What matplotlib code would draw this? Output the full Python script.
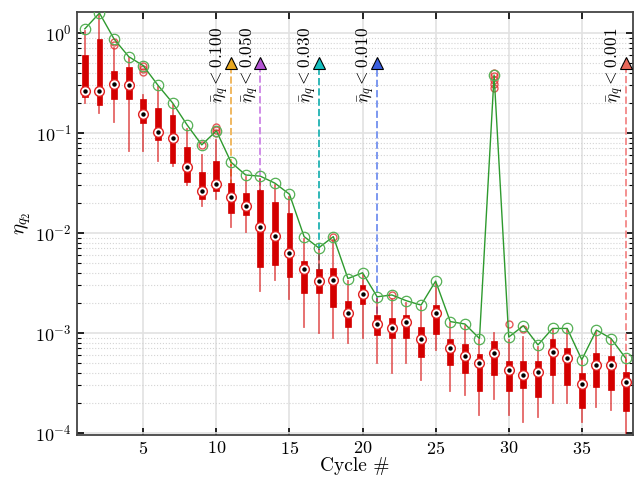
import matplotlib
matplotlib.use("Agg")
import matplotlib.pyplot as plt
import numpy as np

plt.rcParams['font.family'] = 'serif'
plt.rcParams['font.serif'] = ['cmr10']
plt.rcParams['mathtext.fontset'] = 'cm'
plt.rcParams['axes.formatter.use_mathtext'] = True

# per-cycle box statistics
cycles = list(range(1, 39))
whis_hi = [1.05, 1.5, 0.70, 0.56, 0.24, 0.29, 0.19, 0.11, 0.06, 0.085,
           0.048, 0.036, 0.035, 0.030, 0.023, 0.0088, 0.0068, 0.0085, 0.0033, 0.0038,
           0.0022, 0.0022, 0.0020, 0.0018, 0.0031, 0.00125, 0.00118, 0.00085, 0.0010, 0.00085,
           0.00091, 0.00073, 0.00106, 0.00106, 0.00052, 0.00102, 0.00085, 0.00054]
q3 = [0.60, 0.87, 0.42, 0.46, 0.22, 0.178, 0.15, 0.072, 0.041, 0.052,
      0.0316, 0.025, 0.027, 0.0203, 0.0158, 0.0052, 0.0044, 0.0045, 0.0021, 0.0030,
      0.00152, 0.00141, 0.00152, 0.00114, 0.0019, 0.00087, 0.00078, 0.00062, 0.00083, 0.00053,
      0.00053, 0.00052, 0.00087, 0.0007, 0.0004, 0.00063, 0.00059, 0.00041]
medians = [0.26, 0.26, 0.31, 0.30, 0.155, 0.102, 0.089, 0.046, 0.026, 0.031,
           0.023, 0.0188, 0.0115, 0.0094, 0.0063, 0.0044, 0.0033, 0.0034, 0.0016, 0.00245,
           0.00123, 0.00113, 0.00128, 0.00087, 0.0016, 0.0007, 0.00059, 0.0005, 0.00063, 0.00043,
           0.00038, 0.00041, 0.00065, 0.00056, 0.00031, 0.00048, 0.00048, 0.00032]
q1 = [0.23, 0.19, 0.22, 0.22, 0.125, 0.085, 0.05, 0.032, 0.022, 0.026,
      0.0158, 0.0151, 0.0046, 0.0048, 0.0036, 0.0025, 0.0025, 0.0018, 0.00115, 0.00195,
      0.00095, 0.0009, 0.0009, 0.00058, 0.00098, 0.00048, 0.0004, 0.00026, 0.00038, 0.00026,
      0.00028, 0.00023, 0.00038, 0.0003, 0.000178, 0.00029, 0.00027, 0.000167]
whis_lo = [0.20, 0.16, 0.13, 0.066, 0.066, 0.052, 0.047, 0.030, 0.0186, 0.022,
           0.0115, 0.0103, 0.0026, 0.0034, 0.0022, 0.00115, 0.0010, 0.0009, 0.0008, 0.0009,
           0.0005, 0.0004, 0.0005, 0.00034, 0.00068, 0.00026, 0.00024, 0.00015, 0.00022, 0.00015,
           0.00013, 0.000145, 0.0002, 0.0002, 0.00013, 0.00018, 0.00017, 0.0001]
outliers = {3: [0.81, 0.76], 5: [0.47, 0.44, 0.41], 9: [0.076], 10: [0.115, 0.108, 0.1],
            18: [0.0092], 22: [0.0024], 29: [0.40, 0.37, 0.34, 0.31, 0.28],
            30: [0.00123], 31: [0.0011]}
# maximum per cycle (green line)
eta_max = [1.1, 1.58, 0.87, 0.58, 0.47, 0.30, 0.20, 0.12, 0.076, 0.105,
           0.051, 0.038, 0.037, 0.0315, 0.0244, 0.0092, 0.0071, 0.0092, 0.0035, 0.0040,
           0.0023, 0.0024, 0.0021, 0.0019, 0.0033, 0.0013, 0.00123, 0.00088, 0.38, 0.00091,
           0.00118, 0.00076, 0.00111, 0.00111, 0.00054, 0.00107, 0.00088, 0.00056]

# tolerance markers
thr_cycles = [11, 13, 17, 21, 38]
thr_labels = ['0.100', '0.050', '0.030', '0.010', '0.001']
thr_colors = ['#e8a820', '#b455d4', '#14c0c0', '#3a5fe0', '#e8685a']
thr_line_colors = ['#f0b860', '#d08ce8', '#30b8b8', '#7c98f0', '#f49090']

fig = plt.figure(figsize=(6.4, 4.78), dpi=100)
ax = fig.add_axes([0.120, 0.090, 0.869, 0.885])

# thresholds: dashed line from median up to a triangle
for c, lab, col, lcol in zip(thr_cycles, thr_labels, thr_colors, thr_line_colors):
    m = medians[cycles.index(c)]
    ax.plot([c, c], [m, 0.5], ls='--', color=lcol, lw=1.4, zorder=1)
    ax.plot([c], [0.5], marker='^', ms=8, mfc=col, mec='black', mew=0.8, zorder=6)
    ax.text(c - 0.75, 0.2, r'$\bar{\eta}_q < ' + lab + '$', rotation=90,
            ha='center', va='bottom', fontsize=12.5, zorder=6)

stats = []
for i, c in enumerate(cycles):
    stats.append(dict(med=medians[i], q1=q1[i], q3=q3[i], whislo=whis_lo[i],
                      whishi=whis_hi[i], fliers=outliers.get(c, [])))

red = '#d40000'
ax.bxp(stats, positions=cycles, widths=0.4, patch_artist=True, showcaps=False,
       manage_ticks=False,
       boxprops=dict(facecolor=red, edgecolor=red, linewidth=0.5),
       whiskerprops=dict(color=red, alpha=0.6, linewidth=1.3),
       medianprops=dict(visible=False),
       flierprops=dict(marker='o', mfc='none', mec='#e03030', ms=5, mew=1, alpha=0.8))

ax.plot(cycles, eta_max, color='#2e9a2e', lw=1, marker='o', ms=7.5, mfc='none',
        mec='#55b055', mew=0.9, zorder=4)

ax.plot(cycles, medians, ls='none', marker='o', ms=7, mfc='white', mec='#e02020',
        mew=1, zorder=5)
ax.plot(cycles, medians, ls='none', marker='o', ms=2.2, mfc='black', mec='black',
        zorder=5)

ax.set_yscale('log')
ax.set_xlim(0.45, 38.5)
ax.set_ylim(10 ** -4.02, 10 ** 0.21)
ax.set_xticks([5, 10, 15, 20, 25, 30, 35])
ax.grid(True, which='major', color='#e2e2e2', lw=1.2)
ax.grid(True, which='minor', axis='y', color='#d4d4d4', ls=':', lw=0.8)
ax.set_axisbelow(True)
ax.tick_params(which='both', direction='in', top=True, right=True, labelsize=13)
ax.tick_params(which='major', length=5, width=1.2)
ax.tick_params(which='minor', length=3, width=0.8)
for s in ax.spines.values():
    s.set_color('#444444')
    s.set_linewidth(1.3)

ax.set_xlabel('Cycle #', fontsize=14, labelpad=0)
ax.set_ylabel(r'$\eta_{q_2}$', fontsize=15, labelpad=2)

fig.savefig('out.png', dpi=100)
